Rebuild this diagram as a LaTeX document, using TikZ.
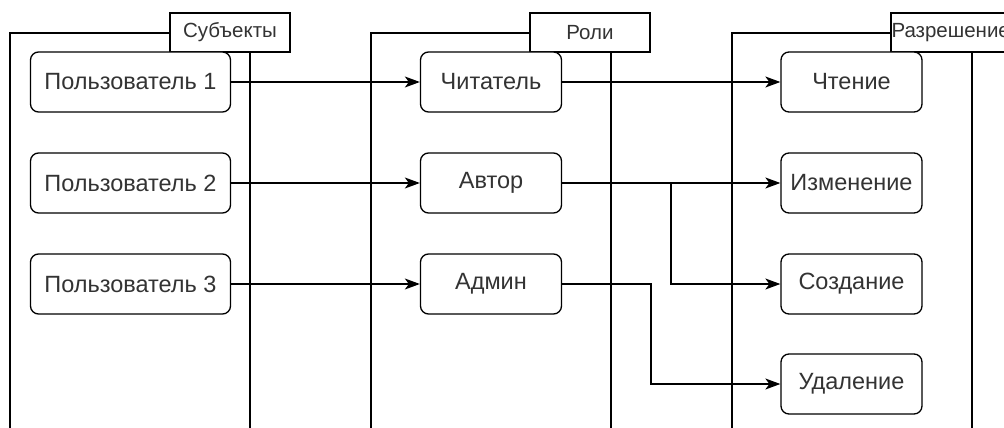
\documentclass[tikz,border=0pt]{standalone}
\usepackage{fontspec}
\setmainfont{Liberation Sans}
\usetikzlibrary{arrows.meta}
\begin{document}
\begin{tikzpicture}[x=1pt,y=-1pt,
  line width=1.3pt,
  lane/.style={draw=black, line width=1.3pt},
  tabbox/.style={draw=black, fill=white, line width=1.3pt, minimum width=120pt, minimum height=39pt, inner sep=0pt, font=\fontsize{20.5}{24}\selectfont, text=black!80},
  item/.style={draw=black, fill=white, rounded corners=8pt, line width=1.3pt, minimum height=60pt, inner sep=0pt, font=\fontsize{23.5}{27}\selectfont, text=black!80},
  wide/.style={item, minimum width=200pt},
  narrow/.style={item, minimum width=141pt},
  arr/.style={draw=black, line width=1.3pt, -{Stealth[length=15pt,width=11pt,inset=4pt]}}
]
\useasboundingbox (0,0) rectangle (1004,428);
% lanes
\draw[lane] (10,440) -- (10,33) -- (170,33);
\draw[lane] (250,52) -- (250,440);
\node[tabbox] (t1) at (230,32.5) {Субъекты};
\draw[lane] (371,440) -- (371,33) -- (530,33);
\draw[lane] (611,52) -- (611,440);
\node[tabbox] (t2) at (590,32.5) {Роли};
\draw[lane] (732,440) -- (732,33) -- (891,33);
\draw[lane] (972,52) -- (972,440);
\node[tabbox, text width=119pt, align=left] (t3) at (951,32.5) {\hspace*{0pt}Разрешение};
% items
\node[wide] (u1) at (130.5,82) {Пользователь 1};
\node[wide] (u2) at (130.5,183) {Пользователь 2};
\node[wide] (u3) at (130.5,284) {Пользователь 3};
\node[narrow] (r1) at (491,82) {Читатель};
\node[narrow] (r2) at (491,183) {Автор};
\node[narrow] (r3) at (491,284) {Админ};
\node[narrow] (p1) at (851.5,82) {Чтение};
\node[narrow] (p2) at (851.5,183) {Изменение};
\node[narrow] (p3) at (851.5,284) {Создание};
\node[narrow] (p4) at (851.5,384) {Удаление};
% connectors
\draw[arr] (u1.east) -- (r1.west);
\draw[arr] (u2.east) -- (r2.west);
\draw[arr] (u3.east) -- (r3.west);
\draw[arr] (r1.east) -- (p1.west);
\draw[arr] (r2.east) -- (p2.west);
\coordinate (j1) at (671,183);
\draw[arr] (r2.east) -- (j1) |- (p3.west);
\coordinate (j2) at (651,284);
\draw[arr] (r3.east) -- (j2) |- (p4.west);
\end{tikzpicture}
\end{document}
